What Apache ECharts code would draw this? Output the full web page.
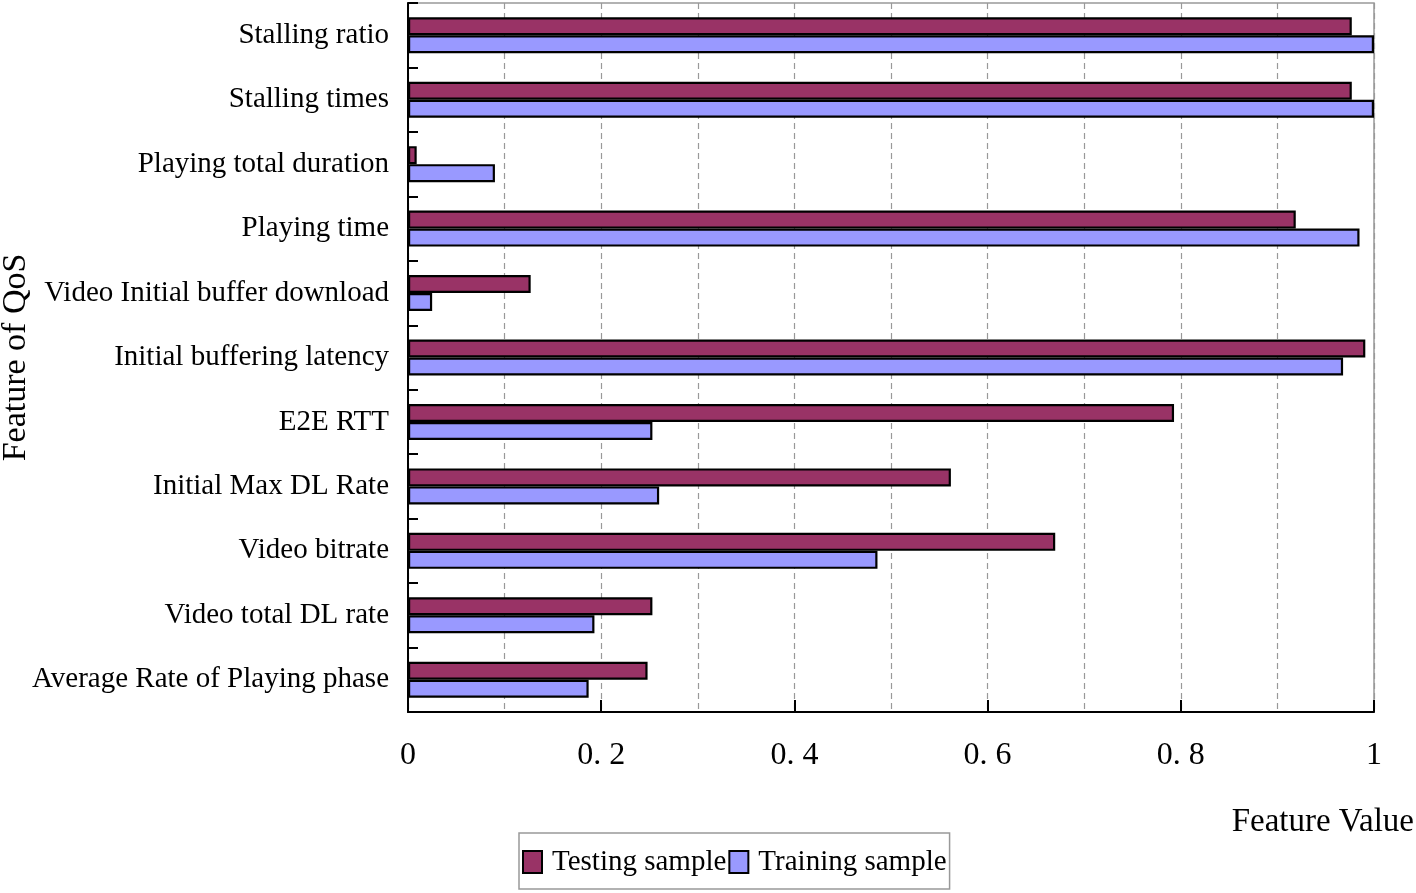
<!DOCTYPE html>
<html><head><meta charset="utf-8">
<script src="https://cdn.jsdelivr.net/npm/echarts@6/dist/echarts.min.js"></script>
<style>html,body{margin:0;padding:0;background:#fff}#c{width:1416px;height:893px}</style>
</head><body><div id="c"></div>
<script>
// categories from bottom to top
const categories = ['Average Rate of Playing phase','Video total DL rate','Video bitrate','Initial Max DL Rate','E2E RTT','Initial buffering latency','Video Initial buffer download','Playing time','Playing total duration','Stalling times','Stalling ratio'];
const testing = [0.248,0.253,0.670,0.562,0.793,0.991,0.127,0.919,0.009,0.977,0.977];
const training = [0.187,0.193,0.486,0.260,0.253,0.968,0.025,0.985,0.090,1.0,1.0];
const xTickLabels = {'0':'0','0.2':'0. 2','0.4':'0. 4','0.6':'0. 6','0.8':'0. 8','1':'1'};
const serif = '"Liberation Serif","Times New Roman",serif';
const chart = echarts.init(document.getElementById('c'));
chart.setOption({
  animation:false,
  backgroundColor:'#fff',
  grid:{left:408,top:3,right:42,bottom:181,outerBoundsMode:'none',containLabel:false,show:true,borderColor:'#999',borderWidth:1.5,backgroundColor:'transparent'},
  legend:{left:519,top:833,orient:'horizontal',itemGap:2,itemWidth:19,itemHeight:22,icon:'rect',
    borderColor:'#999',borderWidth:1.5,padding:[14,3,12,3],
    textStyle:{fontFamily:serif,fontSize:29,lineHeight:30,color:'#000',padding:[0,0,0,5]},
    data:['Testing sample','Training sample']},
  xAxis:{type:'value',min:0,max:1,interval:0.2,
    name:'Feature Value',nameLocation:'end',nameGap:0,nameMoveOverlap:false,
    nameTextStyle:{fontFamily:serif,fontSize:33,color:'#000',align:'right',verticalAlign:'top',padding:[94,-40,0,0]},
    axisLine:{show:true,onZero:false,lineStyle:{color:'#000',width:2}},
    axisTick:{show:true,inside:true,length:12,lineStyle:{color:'#000',width:2}},
    axisLabel:{fontFamily:serif,fontSize:32,color:'#000',margin:28,formatter:v=>xTickLabels[String(+v.toFixed(1))] ?? String(v)},
    splitLine:{show:true,lineStyle:{color:'#999',type:[6,4],width:1.2}},
    minorTick:{show:false,splitNumber:2},
    minorSplitLine:{show:true,lineStyle:{color:'#999',type:[6,4],width:1.2}}
  },
  yAxis:{type:'category',data:categories,
    name:'Feature of QoS',nameLocation:'middle',nameGap:375,nameRotate:90,nameMoveOverlap:false,
    nameTextStyle:{fontFamily:serif,fontSize:34,color:'#000'},
    axisLine:{show:true,lineStyle:{color:'#000',width:2}},
    axisTick:{show:true,inside:true,length:10,lineStyle:{color:'#000',width:2}},
    axisLabel:{fontFamily:serif,fontSize:29,color:'#000',margin:19},
    splitLine:{show:false}
  },
  series:[
    {name:'Testing sample',type:'bar',data:testing,barWidth:18,barGap:'0%',
      itemStyle:{color:'#993366',borderColor:'#000',borderWidth:2.2}},
    {name:'Training sample',type:'bar',data:training,barWidth:18,barGap:'0%',
      itemStyle:{color:'#9999FF',borderColor:'#000',borderWidth:2.2}}
  ]
});
</script></body></html>
